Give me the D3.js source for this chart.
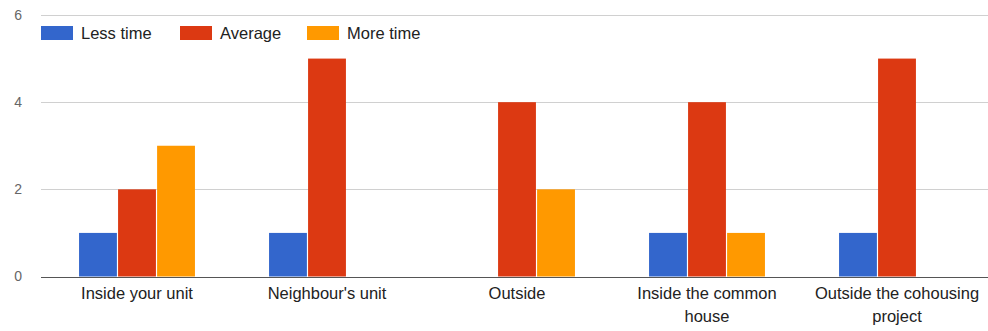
<!DOCTYPE html>
<html>
<head>
<meta charset="utf-8">
<script src="https://cdn.jsdelivr.net/npm/d3@7"></script>
<style>
  html, body { margin: 0; padding: 0; background: #fff; }
  svg { display: block; font-family: "Liberation Sans", Arial, sans-serif; }
</style>
</head>
<body>
<svg id="chart" width="988" height="331"></svg>
<script>
// Time spent in each place, by answer
const categories = ["Inside your unit", "Neighbour's unit", "Outside", "Inside the common house", "Outside the cohousing project"];
const seriesNames = ["Less time", "Average", "More time"];
const lessTime = [1, 1, 0, 1, 1];
const average = [2, 5, 4, 4, 5];
const moreTime = [3, 0, 2, 1, 0];
const yTicks = [0, 2, 4, 6];
const colors = ["#3366cc", "#dc3912", "#ff9900"];

const series = [lessTime, average, moreTime];
const width = 988, height = 331;
const margin = { left: 41, right: 0, top: 15, bottom: 54 };

const svg = d3.select("#chart");

const y = d3.scaleLinear().domain([0, 6]).range([height - margin.bottom - 0.5, margin.top]);
const x = d3.scaleBand().domain(categories).range([42, 992])
  .paddingInner(0.39).paddingOuter(0.195);
const xs = d3.scaleBand().domain(seriesNames).range([0, x.bandwidth()]).paddingInner(0.03);

// Gridlines
svg.append("g").selectAll("line").data(yTicks.filter(d => d > 0)).join("line")
  .attr("x1", margin.left).attr("x2", width)
  .attr("y1", d => Math.round(y(d)) + 0.5).attr("y2", d => Math.round(y(d)) + 0.5)
  .attr("stroke", "#d0d0d0").attr("stroke-width", 1);

// Y tick labels
svg.append("g").selectAll("text").data(yTicks).join("text")
  .attr("x", 22).attr("y", d => y(d)).attr("dy", "0.35em")
  .attr("text-anchor", "end").attr("font-size", 14).attr("fill", "#666")
  .text(d => d);

// Bars
const groups = svg.append("g").selectAll("g").data(categories).join("g")
  .attr("transform", c => `translate(${x(c)},0)`);
groups.selectAll("rect")
  .data((c, i) => series.map((s, k) => ({ name: seriesNames[k], value: s[i], color: colors[k] })))
  .join("rect")
  .attr("x", d => xs(d.name))
  .attr("width", xs.bandwidth())
  .attr("y", d => y(d.value))
  .attr("height", d => y(0) - y(d.value))
  .attr("fill", d => d.color);

// Baseline
svg.append("line")
  .attr("x1", margin.left).attr("x2", width)
  .attr("y1", Math.round(y(0)) + 0.5).attr("y2", Math.round(y(0)) + 0.5)
  .attr("stroke", "#555").attr("stroke-width", 1.2);

// Category labels, wrapped to fit the band step
const xAxis = svg.append("g");
const maxW = 168;
categories.forEach(c => {
  const cx = x(c) + x.bandwidth() / 2;
  const t = xAxis.append("text")
    .attr("x", cx).attr("y", 299)
    .attr("text-anchor", "middle").attr("font-size", 16.5).attr("fill", "#222");
  const words = c.split(" ");
  let line = [];
  let tspan = t.append("tspan").attr("x", cx).attr("dy", 0);
  words.forEach(w => {
    line.push(w);
    tspan.text(line.join(" "));
    if (tspan.node().getComputedTextLength() > maxW && line.length > 1) {
      line.pop();
      tspan.text(line.join(" "));
      line = [w];
      tspan = t.append("tspan").attr("x", cx).attr("dy", 23).text(w);
    }
  });
});

// Legend
const legendX = [41, 180, 307];
const legend = svg.append("g").selectAll("g").data(seriesNames).join("g")
  .attr("transform", (d, i) => `translate(${legendX[i]},26)`);
legend.append("rect").attr("width", 32).attr("height", 14).attr("fill", (d, i) => colors[i]);
legend.append("text").attr("x", 40).attr("y", 7).attr("dy", "0.35em")
  .attr("font-size", 16.5).attr("fill", "#222").text(d => d);
</script>
</body>
</html>
